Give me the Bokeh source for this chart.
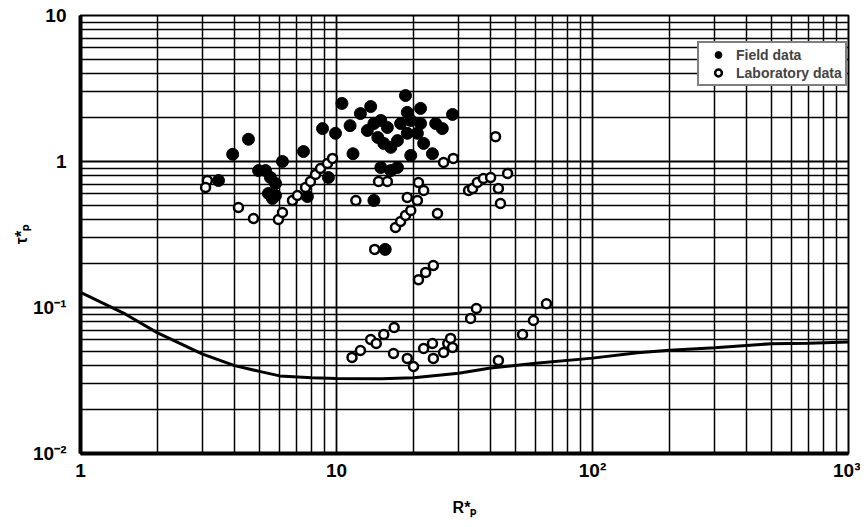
from bokeh.plotting import figure
from bokeh.models import FixedTicker, Legend, LegendItem
from bokeh.embed import file_html
from bokeh.resources import INLINE

# Field data (filled circles)
field_R = [3.93, 4.53, 3.46, 4.96, 5.28, 5.52, 5.78, 5.42, 5.78, 5.62, 6.15, 7.43,
           8.82, 9.91, 10.5, 11.3, 11.6, 9.3, 7.7, 12.4, 13.2, 13.6, 14.0, 14.9,
           15.8, 14.5, 15.3, 16.3, 17.3, 18.9, 17.8, 18.9, 19.5, 18.6, 21.3, 21.3,
           20.7, 24.4, 25.9, 28.4, 21.9, 23.7, 19.5, 14.9, 17.3, 16.3, 14.0, 15.5]
field_tau = [1.12, 1.42, 0.741, 0.867, 0.867, 0.777, 0.707, 0.604, 0.585, 0.558, 1.0, 1.17,
             1.68, 1.56, 2.50, 1.76, 1.13, 0.777, 0.575, 2.13, 1.63, 2.38, 1.82, 1.91,
             1.71, 1.46, 1.33, 1.25, 1.39, 1.56, 1.82, 2.17, 1.91, 2.83, 2.31, 1.82,
             1.56, 1.82, 1.68, 2.10, 1.33, 1.13, 1.10, 0.91, 0.91, 0.867, 0.541, 0.250]

# Laboratory data (open circles)
lab_R = [3.13, 3.08, 4.14, 4.74, 5.93, 6.15, 6.73, 7.04, 7.57, 7.91, 8.28, 8.66, 9.22, 9.65,
         11.9, 14.6, 15.8, 17.0, 17.8, 18.6, 19.5, 14.1,
         18.9, 20.7, 20.9, 21.9, 24.8, 26.2, 28.6, 32.8,
         34.0, 35.5, 37.5, 40.0, 42.9, 46.6, 43.7, 41.8,
         20.9, 22.3, 23.9, 33.4, 35.2, 66.1, 58.8, 53.3,
         16.8, 15.3, 13.6, 14.3, 12.4, 11.5, 16.7, 18.9, 20.0, 21.9, 23.7, 23.9,
         27.2, 27.9, 28.4, 26.2, 42.9]
lab_tau = [0.741, 0.664, 0.484, 0.407, 0.401, 0.447, 0.541, 0.585, 0.664, 0.730, 0.815, 0.895, 0.969, 1.05,
           0.541, 0.730, 0.730, 0.353, 0.388, 0.427, 0.462, 0.250,
           0.567, 0.541, 0.718, 0.633, 0.440, 0.984, 1.05, 0.633,
           0.653, 0.718, 0.765, 0.777, 0.653, 0.828, 0.516, 1.48,
           0.155, 0.174, 0.194, 0.0841, 0.0985, 0.106, 0.0815, 0.0653,
           0.0730, 0.0653, 0.0604, 0.0567, 0.0508, 0.0455, 0.0484, 0.0448, 0.0394, 0.0524, 0.0567, 0.0448,
           0.0567, 0.0614, 0.0532, 0.0492, 0.0434]

# Threshold curve
curve_R = [1, 1.5, 2, 3, 4, 5, 6, 8, 10, 15, 20, 30, 40, 60, 100, 150, 200, 300, 500, 700, 1000]
curve_tau = [0.127, 0.090, 0.067, 0.048, 0.040, 0.0365, 0.034, 0.033, 0.0326, 0.0325, 0.033,
             0.0355, 0.0385, 0.0415, 0.045, 0.049, 0.051, 0.053, 0.0565, 0.057, 0.058]

x_ticks = [1, 10, 100, 1000]
x_tick_labels = ["1", "10", "10\u00b2", "10\u00b3"]
y_ticks = [0.01, 0.1, 1, 10]
y_tick_labels = ["10\u207b\u00b2", "10\u207b\u00b9", "1", "10"]

x_minor = [d * m for d in [1, 10, 100] for m in range(2, 10)]
y_minor = [d * m for d in [0.01, 0.1, 1] for m in range(2, 10)]

FONT = "Liberation Sans"

p = figure(width=860, height=520, x_axis_type="log", y_axis_type="log",
           x_range=(1, 1000), y_range=(0.01, 10),
           output_backend="svg", toolbar_location=None,
           min_border_left=80, min_border_right=12, min_border_top=15, min_border_bottom=67,
           background_fill_color="white", border_fill_color="white")

p.xaxis.ticker = FixedTicker(ticks=x_ticks, minor_ticks=x_minor)
p.yaxis.ticker = FixedTicker(ticks=y_ticks, minor_ticks=y_minor)
p.xaxis.major_label_overrides = {t: l for t, l in zip(x_ticks, x_tick_labels)}
p.yaxis.major_label_overrides = {t: l for t, l in zip(y_ticks, y_tick_labels)}

for g in (p.xgrid, p.ygrid):
    g.grid_line_color = "black"
    g.grid_line_width = 1.8
    g.grid_line_alpha = 1.0
    g.minor_grid_line_color = "black"
    g.minor_grid_line_width = 1.5
    g.minor_grid_line_alpha = 1.0

for ax in (p.xaxis, p.yaxis):
    ax.axis_line_width = 4
    ax.axis_line_color = "black"
    ax.major_tick_line_color = None
    ax.minor_tick_line_color = None
    ax.major_label_text_font = FONT
    ax.major_label_text_font_style = "bold"
    ax.major_label_text_font_size = "19px"
    ax.major_label_text_color = "black"
    ax.axis_label_text_font = FONT
    ax.axis_label_text_font_style = "bold"
    ax.axis_label_text_font_size = "16px"
    ax.axis_label_text_color = "black"

p.xaxis.major_label_standoff = 0
p.yaxis.major_label_standoff = 8
p.xaxis.axis_label = "R*\u209a"
p.yaxis.axis_label = "\u03c4*\u209a"
p.xaxis.axis_label_standoff = 15
p.yaxis.axis_label_standoff = 0

p.outline_line_color = "black"
p.outline_line_width = 2

p.line(curve_R, curve_tau, line_color="black", line_width=3)
r_field = p.scatter(field_R, field_tau, marker="circle", size=12,
                    fill_color="black", line_color="black")
r_lab = p.scatter(lab_R, lab_tau, marker="circle", size=9,
                  fill_color="white", line_color="black", line_width=2.5)

legend = Legend(items=[LegendItem(label="Field data", renderers=[r_field]),
                       LegendItem(label="Laboratory data", renderers=[r_lab])],
                location=(617, 367), margin=0)
legend.border_line_color = "black"
legend.border_line_width = 2
legend.background_fill_color = "white"
legend.background_fill_alpha = 1.0
legend.label_text_font = FONT
legend.label_text_font_style = "bold"
legend.label_text_font_size = "14px"
legend.padding = 3
legend.spacing = 1
legend.glyph_width = 32
legend.glyph_height = 17
legend.label_height = 17
legend.label_standoff = 2
p.add_layout(legend)

open("out.html", "w").write(file_html(p, INLINE))
